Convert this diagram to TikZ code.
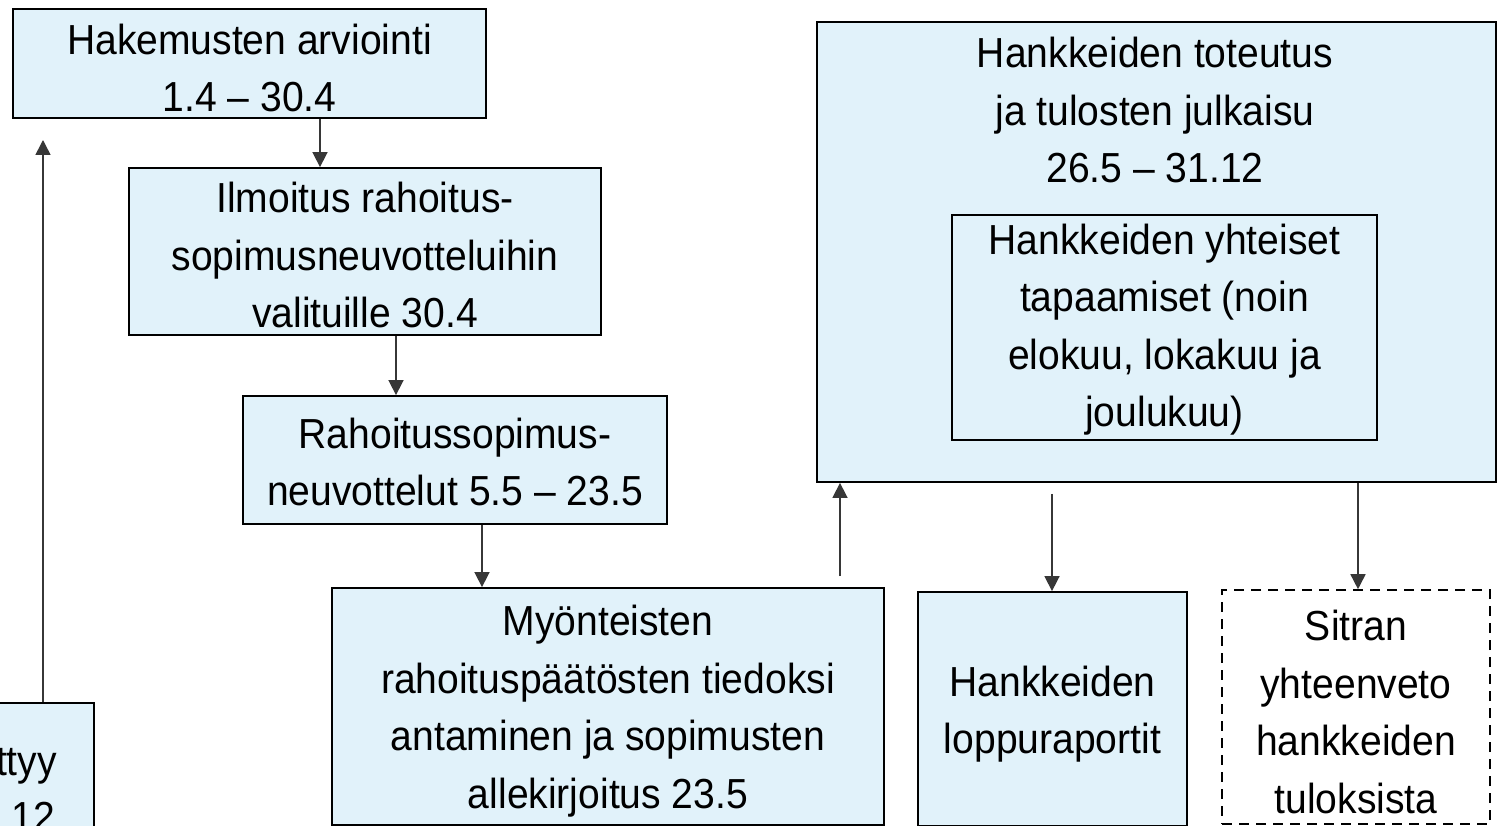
\documentclass[tikz,border=0pt]{standalone}
\usepackage{fontspec}
\setmainfont[FakeStretch=0.93]{Liberation Sans}
\usetikzlibrary{arrows.meta}
\definecolor{boxfill}{RGB}{225,242,250}
\definecolor{linegray}{RGB}{55,55,55}
\begin{document}
\begin{tikzpicture}[x=1pt,y=-1pt,
  box/.style={draw=black,line width=1.8pt,fill=boxfill,rectangle,inner sep=0pt,
    align=center,font=\fontsize{42}{57.5}\selectfont},
  dbox/.style={box,fill=white,line width=1.6pt,dash pattern=on 10pt off 7pt},
  txt/.style={inner sep=0pt,align=center,font=\fontsize{42}{57.5}\selectfont},
  arr/.style={draw=linegray,line width=1.6pt,-{Triangle[width=15pt,length=15pt]}}]
\useasboundingbox (0,0) rectangle (1499,826);
\clip (0,0) rectangle (1499,826);
\fill[white] (0,0) rectangle (1499,826);
% boxes
\node[box,minimum width=473pt,minimum height=109pt] (A) at (249.5,63.5) {};
\node[txt] (At) at (249.5,68) {Hakemusten arviointi\\1.4 – 30.4};
\node[box,minimum width=472pt,minimum height=167pt] (B) at (365,251.5) {};
\node[txt] (Bt) at (365,255) {Ilmoitus rahoitus-\\sopimusneuvotteluihin\\valituille 30.4};
\node[box,minimum width=424pt,minimum height=128pt] (C) at (455,460) {};
\node[txt] (Ct) at (455,462) {Rahoitussopimus-\\neuvottelut 5.5 – 23.5};
\node[box,minimum width=552pt,minimum height=237pt] (D) at (608,706.5) {};
\node[txt] (Dt) at (608,711) {Myönteisten\\rahoituspäätösten tiedoksi\\antaminen ja sopimusten\\allekirjoitus 23.5};
\node[box,minimum width=679pt,minimum height=460pt] (E) at (1156.5,252) {};
\node[txt] (Et) at (1155,110) {Hankkeiden toteutus\\ja tulosten julkaisu\\26.5 – 31.12};
\node[box,line width=1.3pt,minimum width=425pt,minimum height=225pt] (F) at (1164.5,327.5) {};
\node[txt] (Ft) at (1164.5,329.5) {Hankkeiden yhteiset\\tapaamiset (noin\\elokuu, lokakuu ja\\joulukuu)};
\node[box,minimum width=269pt,minimum height=234pt] (G) at (1052.5,709) {};
\node[txt] (Gt) at (1052.5,714) {Hankkeiden\\loppuraportit};
\node[dbox,minimum width=268pt,minimum height=234pt] (H) at (1356,707) {};
\node[txt] (Ht) at (1356,712) {Sitran\\yhteenveto\\hankkeiden\\tuloksista};
\node[box,minimum width=114pt,minimum height=137pt] (I) at (37,771.5) {};
\node[txt,anchor=base east] (It1) at (57,775) {ttyy};
\node[txt,anchor=base east] (It2) at (55,831) {12};
% connector x positions
\coordinate (xAB) at (320,0);
\coordinate (xBC) at (396,0);
\coordinate (xCD) at (482,0);
\coordinate (xDE) at (840,0);
\coordinate (xEG) at (1052,0);
\coordinate (xEH) at (1358,0);
\coordinate (Iend) at (43,140);
% connectors
\draw[arr] (A.south -| xAB) -- (B.north -| xAB);
\draw[arr] (B.south -| xBC) -- (C.north -| xBC);
\draw[arr] (C.south -| xCD) -- (D.north -| xCD);
\draw[arr] ([yshift=11pt]D.north -| xDE) -- (E.south -| xDE);
\draw[arr] ([yshift=-11pt]E.south -| xEG) -- (G.north -| xEG);
\draw[arr] (E.south -| xEH) -- (H.north -| xEH);
\draw[arr] (I.north -| Iend) -- (Iend);
\end{tikzpicture}
\end{document}
